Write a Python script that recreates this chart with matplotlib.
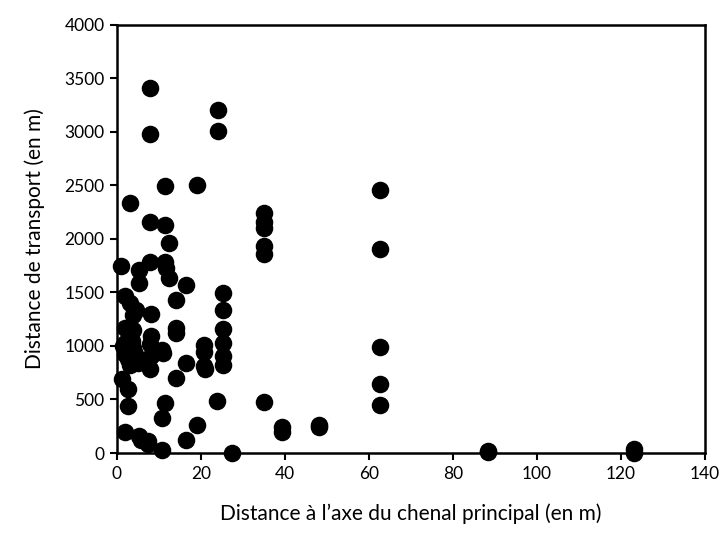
import matplotlib
matplotlib.use("Agg")
import matplotlib.pyplot as plt

# distance to main channel axis (m) and transport distance (m)
dist_axe = [1.0, 1.1, 1.5, 1.8, 1.8, 2.0, 2.0, 1.8, 3.0, 3.0,
            2.6, 2.6, 2.6, 3.2, 3.8, 3.8, 4.6, 4.4, 3.9, 5.0,
            5.3, 5.3, 5.2, 5.8, 7.8, 7.8, 7.8, 7.8, 8.1, 8.1,
            7.9, 8.2, 7.8, 7.5, 7.5, 10.7, 10.9, 10.6, 10.6, 11.5,
            11.5, 11.4, 11.7, 12.4, 12.3, 11.5, 14.1, 14.1, 14.1, 14.1,
            16.4, 16.4, 16.4, 19.0, 19.0, 20.8, 20.8, 20.8, 21.0, 24.1,
            24.1, 23.7, 25.2, 25.2, 25.2, 25.2, 25.2, 25.2, 27.5, 35.1,
            35.1, 35.1, 35.1, 35.1, 35.1, 39.3, 39.3, 48.2, 48.2, 62.6,
            62.6, 62.6, 62.6, 62.6, 88.4, 88.4, 123.2, 123.2, 3.5]
dist_transport = [1745, 690, 995, 1470, 1165, 1025, 920, 200, 2335, 1400,
                  600, 440, 880, 820, 1285, 1150, 1335, 920, 980, 840,
                  1705, 1585, 160, 125, 3405, 2980, 2160, 1780, 1300, 1095,
                  1020, 905, 780, 115, 80, 960, 935, 330, 25, 2490,
                  2125, 1780, 1730, 1965, 1630, 465, 1425, 1165, 1120, 700,
                  1565, 845, 120, 2505, 260, 1005, 945, 810, 780, 3205,
                  3010, 490, 1490, 1335, 1160, 1030, 905, 820, 3, 2240,
                  2160, 2100, 1930, 1855, 480, 245, 200, 260, 240, 2460,
                  1905, 990, 645, 450, 20, 10, 35, 5, 1045]

xticks = [0, 20, 40, 60, 80, 100, 120, 140]
yticks = [0, 500, 1000, 1500, 2000, 2500, 3000, 3500, 4000]

plt.rcParams['font.family'] = ['Lato', 'DejaVu Sans']

fig = plt.figure(figsize=(7.24, 5.33), dpi=100)
ax = fig.add_axes([0.1616, 0.150, 0.812, 0.804])

ax.scatter(dist_axe, dist_transport, s=135, color="black", zorder=3, clip_on=False)

ax.set_xlim(0, 140)
ax.set_ylim(0, 4000)
ax.set_xticks(xticks)
ax.set_yticks(yticks)
ax.tick_params(direction="out", length=5, width=1.5, labelsize=12.5, pad=4)
for spine in ax.spines.values():
    spine.set_linewidth(1.8)
    spine.set_color("black")

ax.set_xlabel("Distance à l’axe du chenal principal (en m)", fontsize=15, labelpad=16)
ax.set_ylabel("Distance de transport (en m)", fontsize=15, labelpad=14)

fig.savefig("out.png", dpi=100)
